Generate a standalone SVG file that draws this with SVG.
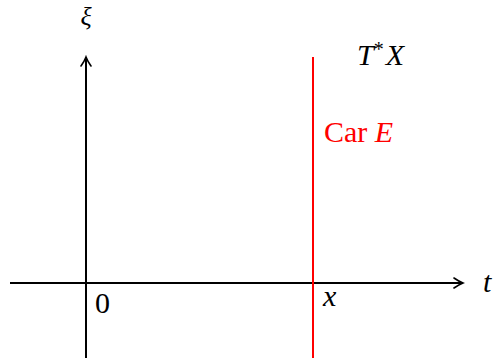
<svg xmlns="http://www.w3.org/2000/svg" width="496" height="360" viewBox="0 0 496 360">
<style>
.ax{stroke:#000;stroke-width:2;fill:none}
.lbl{font-family:'Liberation Serif','DejaVu Serif',serif;font-size:30px;fill:#000}
.it{font-style:italic}
.red{fill:#ff0000}
</style>
<defs>
<marker id="arr" viewBox="0 0 12 12" refX="10" refY="6" markerWidth="12" markerHeight="12" markerUnits="userSpaceOnUse" orient="auto">
<path d="M1,1 Q6,4.5 10,6 Q6,7.5 1,11" fill="none" stroke="#000" stroke-width="1.6" stroke-linecap="round"/>
</marker>
</defs>
<g id="connectors">
<line id="t-axis" class="ax" x1="10" y1="283" x2="463" y2="283" marker-end="url(#arr)"/>
<line id="xi-axis" class="ax" x1="86" y1="358" x2="86" y2="57" marker-end="url(#arr)"/>
<line id="car-line" x1="313" y1="57" x2="313" y2="358" stroke="#ff0000" stroke-width="2"/>
</g>
<g id="xi"><text class="lbl it" x="86" y="25" font-size="26" style="font-size:26px" text-anchor="middle">ξ</text></g>
<g id="TX"><text class="lbl it" x="357" y="65">T<tspan font-style="normal" font-size="20" dy="-9">*</tspan><tspan dy="9" dx="2">X</tspan></text></g>
<g id="carE"><text class="lbl red" x="324" y="142">Car <tspan class="it">E</tspan></text></g>
<g id="zero"><text class="lbl" x="95" y="313">0</text></g>
<g id="x"><text class="lbl it" x="323" y="306">x</text></g>
<g id="t"><text class="lbl it" x="483" y="292">t</text></g>
</svg>
